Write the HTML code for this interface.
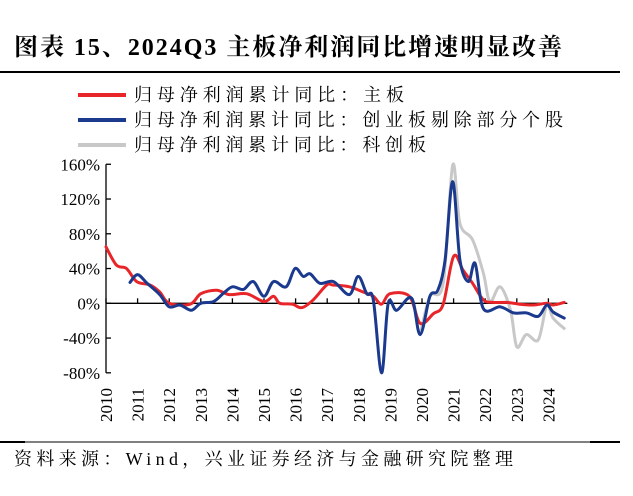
<!DOCTYPE html>
<html><head><meta charset="utf-8">
<style>
body{margin:0;background:#fff;}
svg text{font-family:"Liberation Serif","Noto Serif CJK SC",serif;}
</style></head>
<body>
<svg id="chart" width="633" height="491" viewBox="0 0 633 491" xmlns="http://www.w3.org/2000/svg">
  <text x="14" y="55" font-size="24" font-weight="bold" fill="#000" textLength="548">图表 15、2024Q3 主板净利润同比增速明显改善</text>
  <rect x="0" y="71" width="620" height="2" fill="#000"/>
  <g>
    <g>
      <line x1="78" y1="95" x2="126" y2="95" stroke="#e8262a" stroke-width="4"/>
      <text x="134" y="101" font-size="18" textLength="270">归母净利润累计同比：主板</text>
    </g>
    <g>
      <line x1="78" y1="120" x2="126" y2="120" stroke="#1b3a8e" stroke-width="4"/>
      <text x="134" y="126" font-size="18" textLength="429">归母净利润累计同比：创业板剔除部分个股</text>
    </g>
    <g>
      <line x1="78" y1="145" x2="126" y2="145" stroke="#c8c8c8" stroke-width="4"/>
      <text x="134" y="151" font-size="18" textLength="292">归母净利润累计同比：科创板</text>
    </g>
  </g>
  <g id="axes"></g>
  <g id="series"></g>
  <rect x="0" y="441" width="25" height="2" fill="#000"/>
  <rect x="25" y="441.5" width="565" height="1" fill="#000"/>
  <rect x="590" y="441" width="30" height="2" fill="#000"/>
  <text x="14" y="465" font-size="18" textLength="499">资料来源：Wind，兴业证券经济与金融研究院整理</text>
</svg>
<script>
const yTicks = [160, 120, 80, 40, 0, -40, -80];
const yearLabels = ["2010","2011","2012","2013","2014","2015","2016","2017","2018","2019","2020","2021","2022","2023","2024"];
const mainX = [2010.0,2010.33,2010.65,2010.97,2011.4,2011.7,2012.0,2012.66,2013.0,2013.5,2013.9,2014.45,2015.0,2015.3,2015.5,2015.9,2016.2,2016.56,2016.98,2017.2,2017.7,2018.14,2018.46,2018.72,2018.99,2019.6,2019.94,2020.36,2020.67,2021.0,2021.3,2021.6,2021.94,2022.26,2022.68,2023.1,2023.52,2023.95,2024.15,2024.5];
const mainY = [65,44,40,25,21,13,0,-1,11,15,10,11,2,8,0,-1,-5,4,21,21,19,13,8,-1,11,8,-23,-12,-1,54,38,23,4,1,1,-1,-2,0,-2,1];
const chinextX = [2010.76,2011.0,2011.3,2011.7,2012.0,2012.34,2012.7,2013.0,2013.4,2013.7,2014.0,2014.35,2014.66,2015.0,2015.3,2015.7,2015.98,2016.24,2016.46,2016.77,2017.2,2017.7,2017.98,2018.25,2018.46,2018.72,2018.93,2019.2,2019.67,2019.94,2020.25,2020.5,2020.73,2020.97,2021.2,2021.47,2021.68,2021.94,2022.47,2022.9,2023.3,2023.68,2023.95,2024.15,2024.5];
const chinextY = [24,33,23,10,-4,-2,-8,0,2,11,19,16,25,8,25,19,40,31,34,23,25,10,31,11,4,-80,0,-8,6,-36,8,15,50,140,50,25,46,-6,-4,-11,-11,-15,-2,-10,-17];
const starX = [2019.94,2020.25,2020.67,2020.97,2021.2,2021.6,2021.94,2022.15,2022.47,2022.8,2023.0,2023.3,2023.68,2023.95,2024.15,2024.5];
const starY = [-36,8,23,159,92,73,35,2,19,-8,-50,-36,-42,-2,-17,-29];

const NS = "http://www.w3.org/2000/svg";
const X0 = 106, PX_PER_YEAR = 31.6, Y0 = 303.3, PX_PER_PCT = 0.869;
function xScale(yr){ return X0 + (yr - 2010) * PX_PER_YEAR; }
function yScale(v){ return Y0 - v * PX_PER_PCT; }
function mk(tag, attrs){ const e = document.createElementNS(NS, tag); for (const k in attrs) e.setAttribute(k, attrs[k]); return e; }

const axes = document.getElementById('axes');
const yAxis = mk('line', {x1: X0, y1: yScale(160), x2: X0, y2: yScale(-80), stroke: '#000', 'stroke-width': 1.3});


axes.appendChild(yAxis);
yTicks.forEach(v => {
  const t = mk('line', {x1: X0, y1: yScale(v), x2: X0 + 5, y2: yScale(v), stroke: '#000', 'stroke-width': 1.3});
  
  
  axes.appendChild(t);
  const l = mk('text', {x: X0 - 6, y: yScale(v) + 6, 'font-size': 17, 'text-anchor': 'end'});
  l.textContent = v + '%';
  
  
  axes.appendChild(l);
});
const xAxis = mk('line', {x1: X0, y1: yScale(0), x2: xScale(2024.6), y2: yScale(0), stroke: '#000', 'stroke-width': 1.3});


axes.appendChild(xAxis);
yearLabels.forEach(y => {
  const x = xScale(+y);
  const t = mk('line', {x1: x, y1: yScale(0), x2: x, y2: yScale(0) - 5, stroke: '#000', 'stroke-width': 1.3});
  
  
  axes.appendChild(t);
  const l = mk('text', {x: 0, y: 0, 'font-size': 17, 'text-anchor': 'end', transform: `translate(${x + 6},388) rotate(-90)`});
  l.textContent = y;
  
  
  axes.appendChild(l);
});

const series = document.getElementById('series');
function smoothPath(pts){
  let d = 'M' + pts[0][0].toFixed(1) + ' ' + pts[0][1].toFixed(1);
  for (let i = 0; i < pts.length - 1; i++){
    const p0 = pts[Math.max(0, i - 1)], p1 = pts[i], p2 = pts[i + 1], p3 = pts[Math.min(pts.length - 1, i + 2)];
    const k = 1 / 6;
    const c1x = p1[0] + (p2[0] - p0[0]) * k, c1y = p1[1] + (p2[1] - p0[1]) * k;
    const c2x = p2[0] - (p3[0] - p1[0]) * k, c2y = p2[1] - (p3[1] - p1[1]) * k;
    d += ` C${c1x.toFixed(1)} ${c1y.toFixed(1)} ${c2x.toFixed(1)} ${c2y.toFixed(1)} ${p2[0].toFixed(1)} ${p2[1].toFixed(1)}`;
  }
  return d;
}
function draw(xs, ys, color, name){
  const pts = xs.map((x, i) => [xScale(x), yScale(ys[i])]);
  const p = mk('path', {d: smoothPath(pts), fill: 'none', stroke: color, 'stroke-width': 3, 'stroke-linejoin': 'round', 'stroke-linecap': 'round'});
  
  
  series.appendChild(p);
}
draw(starX, starY, '#c8c8c8', 'star-market-line');
draw(mainX, mainY, '#e8262a', 'main-board-line');
draw(chinextX, chinextY, '#1b3a8e', 'chinext-line');
</script>
</body></html>
